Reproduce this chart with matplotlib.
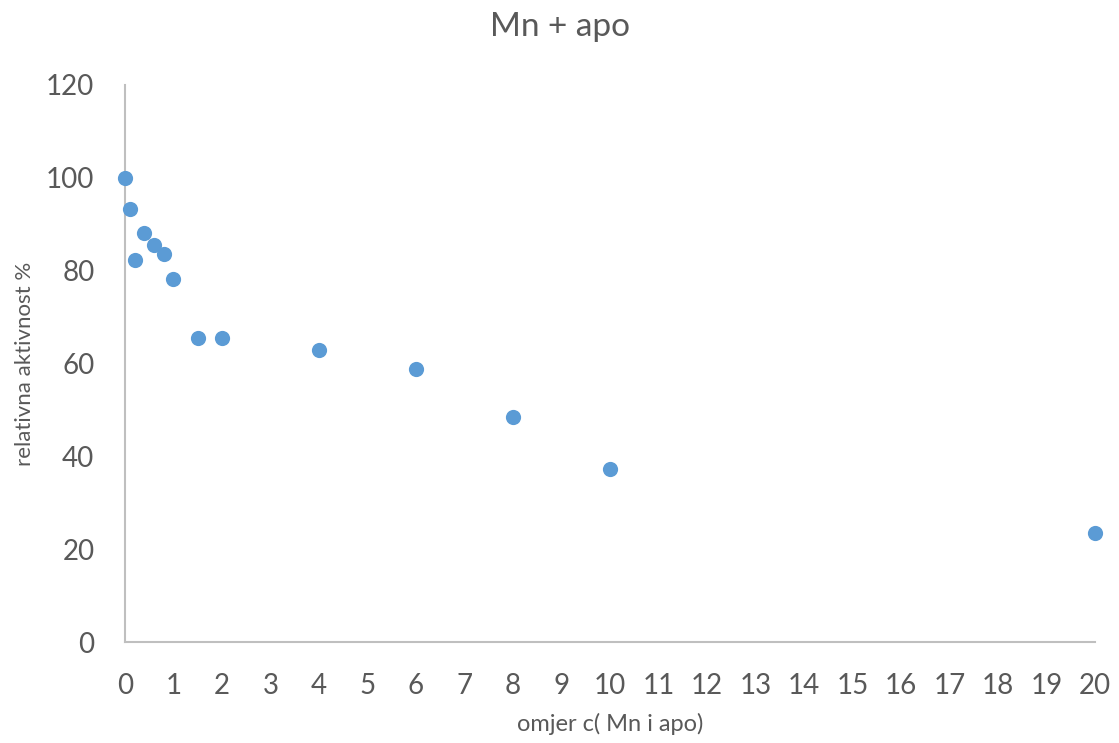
import matplotlib
matplotlib.use("Agg")
import matplotlib.pyplot as plt

ratio = [0, 0.1, 0.2, 0.4, 0.6, 0.8, 1, 1.5, 2, 4, 6, 8, 10, 20]
activity = [100, 93.2, 82.3, 88.2, 85.5, 83.6, 78.2, 65.6, 65.6, 62.9, 58.8, 48.5, 37.3, 23.5]
x_ticks = list(range(0, 21))
y_ticks = [0, 20, 40, 60, 80, 100, 120]

plt.rcParams['font.family'] = ['Lato', 'DejaVu Sans']
fig = plt.figure(figsize=(11.19, 7.43), dpi=100)
ax = fig.add_axes([0.1117, 0.1359, 0.9786 - 0.1117, 0.8856 - 0.1359])
ax.scatter(ratio, activity, s=120, color='#5B9BD5', zorder=3, clip_on=False, linewidths=0)
ax.set_xlim(0, 20)
ax.set_ylim(0, 120)
ax.set_xticks(x_ticks)
ax.set_yticks(y_ticks)
for s in ['top', 'right']:
    ax.spines[s].set_visible(False)
for s in ['left', 'bottom']:
    ax.spines[s].set_color('#BFBFBF')
    ax.spines[s].set_linewidth(1.5)
ax.tick_params(axis='both', length=0, labelsize=20, labelcolor='#595959')
ax.tick_params(axis='x', pad=22)
ax.tick_params(axis='y', pad=22)
ax.set_xlabel('omjer c( Mn i apo)', fontsize=17, color='#595959', labelpad=10)
ax.set_ylabel('relativna aktivnost %', fontsize=16, color='#595959', labelpad=8)
fig.text(0.5, 0.963, 'Mn + apo', ha='center', va='center', fontsize=24, color='#595959')
fig.savefig('out.png', dpi=100)
